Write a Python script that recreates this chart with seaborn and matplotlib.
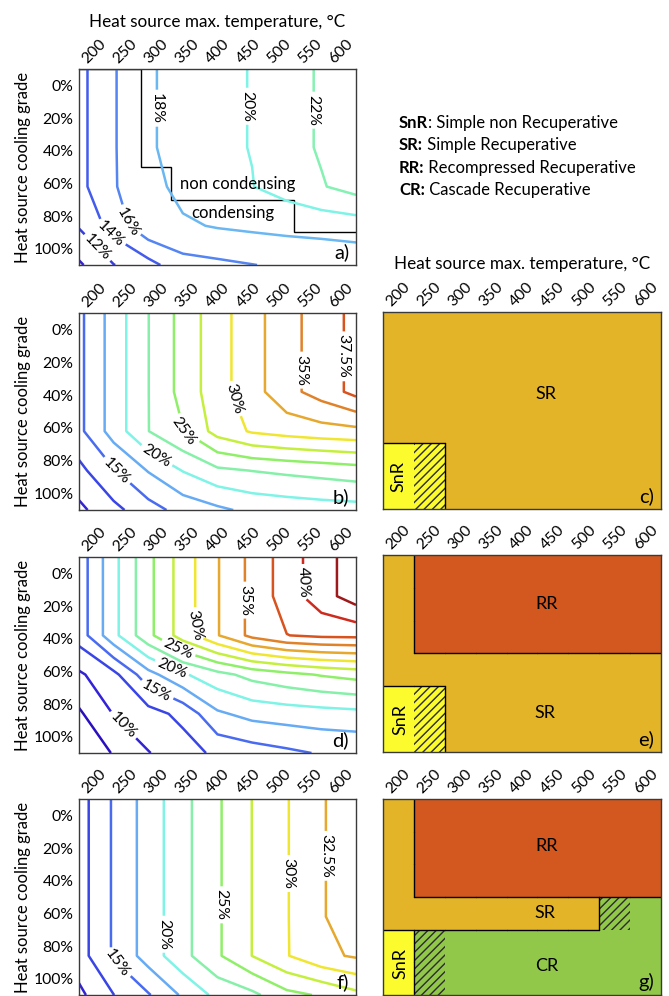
import numpy as np
import matplotlib
matplotlib.use("Agg")
import matplotlib.pyplot as plt
import seaborn as sns
from matplotlib.colors import LinearSegmentedColormap, ListedColormap
from matplotlib.patches import Rectangle

# ------------------------------------------------------------
# data
# ------------------------------------------------------------
temps = [200, 250, 300, 350, 400, 450, 500, 550, 600]
grades = [0, 20, 40, 60, 80, 100]
grade_labels = ["0%", "20%", "40%", "60%", "80%", "100%"]

# cycle efficiency (%), rows = cooling grade, cols = heat source temperature
eff_a = [
    [13.40, 15.85, 17.60, 19.20, 19.70, 20.05, 21.30, 22.20, 22.90],
    [13.40, 15.85, 17.60, 19.20, 19.70, 20.05, 21.30, 22.20, 22.90],
    [13.40, 15.85, 17.60, 19.20, 19.70, 20.05, 21.30, 22.20, 22.90],
    [13.40, 15.85, 17.30, 18.60, 19.00, 19.95, 20.80, 21.85, 22.81],
    [12.17, 14.81, 17.50, 17.72, 18.15, 18.40, 18.60, 18.75, 18.96],
    [9.70, 11.94, 13.30, 15.30, 15.60, 15.95, 16.30, 16.50, 16.70],
]
eff_b = [
    [14.39, 18.59, 22.45, 25.89, 28.99, 31.50, 34.20, 36.06, 38.28],
    [14.39, 18.59, 22.45, 25.89, 28.99, 31.50, 34.20, 36.06, 38.28],
    [14.39, 18.59, 22.45, 25.89, 28.99, 31.50, 34.20, 36.06, 38.28],
    [14.39, 18.59, 22.45, 24.90, 28.46, 30.29, 31.00, 31.50, 31.80],
    [11.80, 14.80, 17.64, 20.10, 22.00, 22.55, 23.00, 23.40, 23.87],
    [9.40, 11.81, 14.00, 15.90, 17.00, 18.10, 18.50, 18.80, 18.97],
]
eff_d = [
    [13.58, 19.26, 24.30, 28.70, 32.35, 35.70, 38.70, 41.47, 43.76],
    [13.58, 19.26, 24.30, 28.70, 32.35, 35.70, 38.70, 41.47, 43.76],
    [13.58, 19.26, 24.30, 28.70, 32.35, 35.70, 37.45, 38.00, 38.10],
    [9.60, 11.78, 16.58, 19.65, 21.70, 23.30, 24.30, 25.20, 25.86],
    [7.12, 10.10, 11.50, 13.20, 17.10, 18.30, 18.70, 19.00, 19.26],
    [6.00, 7.63, 9.90, 11.30, 13.10, 13.80, 14.50, 15.20, 15.40],
]
eff_f = [
    [11.41, 15.30, 18.58, 21.74, 24.66, 27.53, 29.85, 32.35, 33.50],
    [11.41, 15.30, 18.58, 21.74, 24.66, 27.53, 29.85, 32.35, 33.50],
    [11.41, 15.30, 18.58, 21.74, 24.66, 27.53, 29.85, 32.35, 33.50],
    [11.41, 15.30, 18.58, 21.74, 24.66, 27.53, 29.85, 32.35, 33.50],
    [11.41, 15.30, 18.58, 21.74, 24.66, 27.53, 29.85, 31.90, 32.80],
    [9.39, 12.45, 14.78, 17.87, 20.71, 21.90, 24.30, 25.26, 26.80],
]

levels_a = [10, 12, 14, 16, 18, 20, 22]
levels_b = [10, 12.5, 15, 17.5, 20, 22.5, 25, 27.5, 30, 32.5, 35, 37.5]
levels_d = [7.5, 10, 12.5, 15, 17.5, 20, 22.5, 25, 27.5, 30, 32.5, 35, 37.5, 40, 42.5]
levels_f = [10, 12.5, 15, 17.5, 20, 22.5, 25, 27.5, 30, 32.5]

labels_a = [12, 14, 16, 18, 20, 22]
labels_b = [15, 20, 25, 30, 35, 37.5]
labels_d = [10, 15, 20, 25, 30, 35, 40]
labels_f = [15, 20, 25, 30, 32.5]

# condensing from this cooling grade on (panel a), per temperature
cond_from = [0, 0, 60, 80, 80, 80, 80, 100, 100]

# best cycle per cell: 0 SnR, 1 SR, 2 RR, 3 CR
best_c = [
    [1, 1, 1, 1, 1, 1, 1, 1, 1],
    [1, 1, 1, 1, 1, 1, 1, 1, 1],
    [1, 1, 1, 1, 1, 1, 1, 1, 1],
    [1, 1, 1, 1, 1, 1, 1, 1, 1],
    [0, 0, 1, 1, 1, 1, 1, 1, 1],
    [0, 0, 1, 1, 1, 1, 1, 1, 1],
]
best_e = [
    [1, 2, 2, 2, 2, 2, 2, 2, 2],
    [1, 2, 2, 2, 2, 2, 2, 2, 2],
    [1, 2, 2, 2, 2, 2, 2, 2, 2],
    [1, 1, 1, 1, 1, 1, 1, 1, 1],
    [0, 0, 1, 1, 1, 1, 1, 1, 1],
    [0, 0, 1, 1, 1, 1, 1, 1, 1],
]
best_g = [
    [1, 2, 2, 2, 2, 2, 2, 2, 2],
    [1, 2, 2, 2, 2, 2, 2, 2, 2],
    [1, 2, 2, 2, 2, 2, 2, 2, 2],
    [1, 1, 1, 1, 1, 1, 1, 3, 3],
    [0, 3, 3, 3, 3, 3, 3, 3, 3],
    [0, 3, 3, 3, 3, 3, 3, 3, 3],
]
# hatched cells (close call between cycles)
tie_c = [
    [0, 0, 0, 0, 0, 0, 0, 0, 0],
    [0, 0, 0, 0, 0, 0, 0, 0, 0],
    [0, 0, 0, 0, 0, 0, 0, 0, 0],
    [0, 0, 0, 0, 0, 0, 0, 0, 0],
    [0, 1, 0, 0, 0, 0, 0, 0, 0],
    [0, 1, 0, 0, 0, 0, 0, 0, 0],
]
tie_e = tie_c
tie_g = [
    [0, 0, 0, 0, 0, 0, 0, 0, 0],
    [0, 0, 0, 0, 0, 0, 0, 0, 0],
    [0, 0, 0, 0, 0, 0, 0, 0, 0],
    [0, 0, 0, 0, 0, 0, 0, 1, 0],
    [0, 1, 0, 0, 0, 0, 0, 0, 0],
    [0, 1, 0, 0, 0, 0, 0, 0, 0],
]

legend_keys = ["SnR", "SR:", "RR:", "CR:"]
legend_text = [": Simple non Recuperative", " Simple Recuperative",
               " Recompressed Recuperative", " Cascade Recuperative"]

# ------------------------------------------------------------
# style
# ------------------------------------------------------------
sns.set_theme(style="white")
plt.rcParams["font.family"] = ["Lato", "DejaVu Sans"]
plt.rcParams["hatch.linewidth"] = 1.0
for key in ["text.color", "axes.labelcolor", "xtick.color", "ytick.color"]:
    plt.rcParams[key] = "black"

W, H = 669, 996
EDGE = "#3a3a3a"
TICK_FS = 11.3
anchor_colors = ["#2a0fc0", "#3322d8", "#3a46e6", "#4a6cf0", "#66aaf4",
                 "#7ff3e6", "#86f0a8", "#8fef6a", "#c4ef3e", "#f0e632",
                 "#e6a82e", "#e0842a", "#d8541e", "#cf2a1e", "#9e1a1a"]
eff_cmap = LinearSegmentedColormap.from_list("eff", anchor_colors)
cycle_cmap = ListedColormap(["#fbfb2e", "#e3b428", "#d2581f", "#92c84a"])
XLABEL = "Heat source max. temperature, °C"

fig = plt.figure(figsize=(W / 100, H / 100), dpi=100)


def px_axes(left, top, right, bottom):
    return fig.add_axes([left / W, 1 - bottom / H, (right - left) / W, (bottom - top) / H])


def frame(ax):
    for sp in ax.spines.values():
        sp.set_visible(True)
        sp.set_color(EDGE)
        sp.set_linewidth(1.0)


def top_ticks(ax):
    ax.xaxis.tick_top()
    ax.tick_params(axis="x", length=0, pad=2, labelsize=TICK_FS, rotation=45)


def level_colors(levels):
    return [eff_cmap((v - 7.5) / 35.0) for v in levels]


def contour_panel(ax, eff, levels, labels, label_pos, letter):
    z = np.array(eff)
    plain = [v for v in levels if v not in labels]
    if plain:
        ax.contour(temps, grades, z, levels=plain, colors=level_colors(plain), linewidths=1.8)
    cs = ax.contour(temps, grades, z, levels=labels, colors=level_colors(labels), linewidths=1.8)
    ax.set_xlim(temps[0], temps[-1])
    ax.set_ylim(grades[-1], grades[0])
    # labels sit in the middle of each band (Excel-like surface chart)
    ax.set_xticks(np.linspace(temps[0], temps[-1], 2 * len(temps) + 1)[1::2], [str(t) for t in temps])
    ax.set_yticks(np.linspace(grades[0], grades[-1], 2 * len(grades) + 1)[1::2], grade_labels)
    top_ticks(ax)
    ax.tick_params(axis="y", length=0, pad=4, labelsize=TICK_FS)
    ax.set_ylabel("Heat source cooling grade", fontsize=12, labelpad=2)
    ax.clabel(cs, manual=label_pos, inline=True, inline_spacing=3,
              fmt=lambda v: f"{v:g}%", fontsize=11.3, colors="black")
    ax.text(0.975, 0.02, letter, transform=ax.transAxes, ha="right", va="bottom", fontsize=14.5)
    frame(ax)


def map_panel(ax, best, tie, names, letter):
    best = np.array(best)
    sns.heatmap(best, cmap=cycle_cmap, vmin=-0.5, vmax=3.5, cbar=False,
                xticklabels=temps, yticklabels=False, linewidths=0, ax=ax)
    for i, j in zip(*np.nonzero(np.array(tie))):
        ax.add_patch(Rectangle((j, i), 1, 1, fill=False, hatch="////",
                               edgecolor="#2b2b2b", linewidth=0))
    nr, nc = best.shape
    for i in range(nr):
        for j in range(nc):
            if j + 1 < nc and best[i, j] != best[i, j + 1]:
                ax.plot([j + 1, j + 1], [i, i + 1], color="black", lw=1)
            if i + 1 < nr and best[i, j] != best[i + 1, j]:
                ax.plot([j, j + 1], [i + 1, i + 1], color="black", lw=1)
    for txt, x, y, rot in names:
        ax.text(x, y, txt, ha="center", va="center", rotation=rot, fontsize=13)
    top_ticks(ax)
    ax.set_xlabel("")
    ax.text(0.975, 0.02, letter, transform=ax.transAxes, ha="right", va="bottom", fontsize=14.5)
    frame(ax)


# ------------------------------------------------------------
# left column: efficiency contours
# ------------------------------------------------------------
ax_a = px_axes(79, 69, 356, 265)
contour_panel(ax_a, eff_a, levels_a, labels_a,
              [(224, 92), (246, 84), (272, 78), (312, 20), (443, 19), (528, 21)], "a)")
edges = np.linspace(temps[0], temps[-1], len(temps) + 1)
band_h = (grades[-1] - grades[0]) / len(grades)
ax_a.stairs([grades.index(g) * band_h for g in cond_from], edges, baseline=None,
            color="black", linewidth=1.0)
ax_a.text(429, 58.7, "non condensing", ha="center", va="center", fontsize=12)
ax_a.text(422, 73.5, "condensing", ha="center", va="center", fontsize=12)
ax_a.set_xlabel(XLABEL, fontsize=12.3, labelpad=7)
ax_a.xaxis.set_label_position("top")

ax_b = px_axes(79, 313, 356, 510)
contour_panel(ax_b, eff_b, levels_b, labels_b,
              [(252, 81), (311, 73), (347, 61), (421, 44), (519, 29), (579, 22)], "b)")

ax_d = px_axes(79, 557, 356, 753)
contour_panel(ax_d, eff_d, levels_d, labels_d,
              [(266, 85), (311, 69), (331, 59), (343, 47), (367, 35), (441, 22), (522, 13)], "d)")

ax_f = px_axes(79, 799, 356, 995)
contour_panel(ax_f, eff_f, levels_f, labels_f,
              [(255, 84), (320, 69), (404, 54), (496, 38), (554, 29)], "f)")

# ------------------------------------------------------------
# right column: best cycle maps
# ------------------------------------------------------------
ax_c = px_axes(383, 312, 661, 509)
map_panel(ax_c, best_c, tie_c, [("SR", 5.27, 2.5, 0), ("SnR", 0.5, 5.0, 90)], "c)")
ax_c.set_xlabel(XLABEL, fontsize=12.3, labelpad=8)
ax_c.xaxis.set_label_position("top")

ax_e = px_axes(383, 555, 661, 752)
map_panel(ax_e, best_e, tie_e, [("RR", 5.3, 1.5, 0), ("SR", 5.25, 4.8, 0), ("SnR", 0.55, 5.0, 90)], "e)")

ax_g = px_axes(383, 799, 661, 995)
map_panel(ax_g, best_g, tie_g, [("RR", 5.3, 1.45, 0), ("SR", 5.25, 3.5, 0),
                                ("CR", 5.3, 5.1, 0), ("SnR", 0.55, 5.05, 90)], "g)")

# ------------------------------------------------------------
# legend block
# ------------------------------------------------------------
for k, (key, rest) in enumerate(zip(legend_keys, legend_text)):
    y = 1 - (123 + 22.3 * k) / H
    t = fig.text(399 / W, y, key, fontweight="bold", fontsize=12, ha="left", va="center")
    ax_a.annotate(rest, xy=(1, 0.5), xycoords=t, ha="left", va="center",
                  fontsize=12, annotation_clip=False)

fig.savefig("out.png", dpi=100)
